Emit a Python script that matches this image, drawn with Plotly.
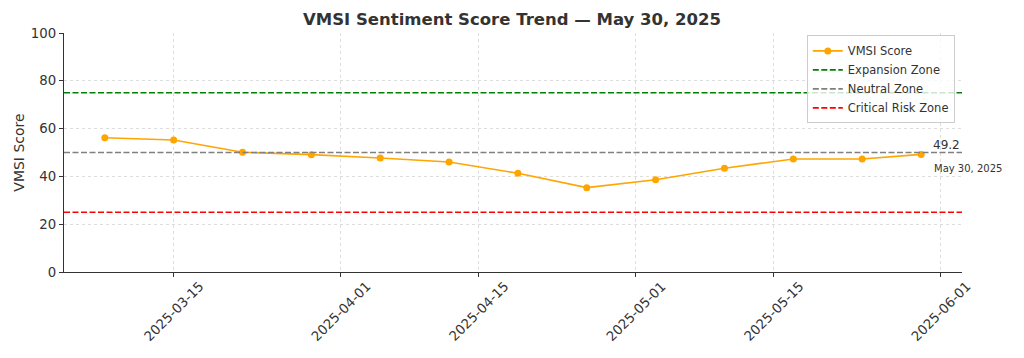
import plotly.graph_objects as go

dates = ["2025-03-08", "2025-03-15", "2025-03-22", "2025-03-29", "2025-04-05",
         "2025-04-12", "2025-04-19", "2025-04-26", "2025-05-03", "2025-05-10",
         "2025-05-17", "2025-05-24", "2025-05-30"]
scores = [56.2, 55.2, 50.1, 49.1, 47.7, 46.0, 41.3, 35.3, 38.6, 43.4, 47.3, 47.3, 49.2]

zones = [("Expansion Zone", 75, "#008000"),
         ("Neutral Zone", 50, "#808080"),
         ("Critical Risk Zone", 25, "#FF0000")]

tick_dates = ["2025-03-15", "2025-04-01", "2025-04-15", "2025-05-01", "2025-05-15", "2025-06-01"]
y_ticks = [0, 20, 40, 60, 80, 100]

FONT = "DejaVu Sans"
TXT = "#333333"

fig = go.Figure()
fig.add_trace(go.Scatter(
    x=dates, y=scores, mode="lines+markers", name="VMSI Score",
    line=dict(color="#FFA500", width=1.6),
    marker=dict(color="#FFA500", size=7),
    legendrank=1, cliponaxis=False,
))

for i, (name, val, col) in enumerate(zones):
    fig.add_hline(y=val, line=dict(color=col, width=1.6, dash="6px,2.5px"),
                  showlegend=True, name=name, legendrank=2 + i, layer="above")

# rotated date labels centered under ticks (matplotlib-like)
for d in tick_dates:
    fig.add_annotation(x=d, y=0, xref="x", yref="paper", yshift=-39,
                       text=d, textangle=-45, showarrow=False,
                       font=dict(family=FONT, size=13.3, color=TXT),
                       xanchor="center", yanchor="middle")

# last value annotations
fig.add_annotation(x=dates[-1], y=scores[-1], xref="x", yref="y",
                   text=f"{scores[-1]}", showarrow=False, xanchor="left", yanchor="middle",
                   xshift=10, yshift=9, font=dict(family=FONT, size=12, color=TXT))
fig.add_annotation(x=dates[-1], y=scores[-1], xref="x", yref="y",
                   text="May 30, 2025", showarrow=False, xanchor="left", yanchor="middle",
                   xshift=11, yshift=-14, font=dict(family=FONT, size=10, color=TXT))

fig.update_layout(
    width=1024, height=358,
    margin=dict(l=64, r=62, t=33, b=86),
    paper_bgcolor="white", plot_bgcolor="white",
    title=dict(text="<b>VMSI Sentiment Score Trend — May 30, 2025</b>",
               x=0.5, xanchor="center", y=0.945, yanchor="middle",
               font=dict(family=FONT, size=16.5, color=TXT)),
    font=dict(family=FONT, size=13, color=TXT),
    showlegend=True,
    legend=dict(x=0.992, y=0.99, xanchor="right", yanchor="top",
                bgcolor="rgba(255,255,255,0.8)", bordercolor="#cccccc", borderwidth=1,
                font=dict(family=FONT, size=11.5, color=TXT),
                itemwidth=30, tracegroupgap=0),
)

fig.update_xaxes(
    type="date", range=["2025-03-03 20:24", "2025-06-03 03:36"],
    tickvals=tick_dates, showticklabels=False,
    showgrid=True, gridcolor="#dddddd", griddash="dot", gridwidth=1,
    showline=True, linecolor="#333333", linewidth=1.2,
    ticks="outside", ticklen=4, tickcolor="#333333", zeroline=False,
)
fig.update_yaxes(
    range=[0, 100], tickvals=y_ticks,
    title=dict(text="VMSI Score", font=dict(family=FONT, size=14, color=TXT), standoff=2),
    showgrid=True, gridcolor="#dddddd", griddash="dot", gridwidth=1,
    showline=True, linecolor="#333333", linewidth=1.2,
    ticks="outside", ticklen=4, tickcolor="#333333", zeroline=False,
    tickfont=dict(family=FONT, size=13.3, color=TXT),
)

fig.write_html("out.html")
